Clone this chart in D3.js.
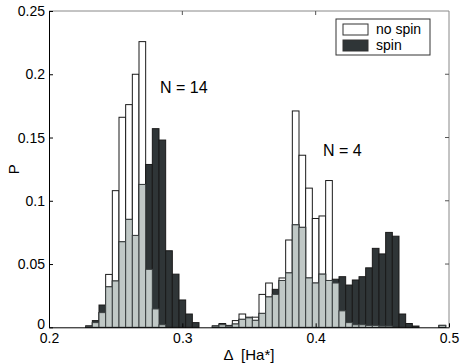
<!DOCTYPE html>
<html>
<head>
<meta charset="utf-8">
<script src="https://cdn.jsdelivr.net/npm/d3@7"></script>
<style>
  body { margin: 0; background: #fff; }
  svg text { font-family: "Liberation Sans", Arial, sans-serif; fill: #000; }
</style>
</head>
<body>
<div class="chart"></div>
<script>
const width = 463
const height = 363

// bin centres (Delta, Ha*)
const bins = [0.230, 0.235, 0.240, 0.245, 0.250, 0.255, 0.260, 0.265, 0.270, 0.275,
              0.280, 0.285, 0.290, 0.295, 0.300, 0.305, 0.310, 0.315, 0.320, 0.325,
              0.330, 0.335, 0.340, 0.345, 0.350, 0.355, 0.360, 0.365, 0.370, 0.375,
              0.380, 0.385, 0.390, 0.395, 0.400, 0.405, 0.410, 0.415, 0.420, 0.425,
              0.430, 0.435, 0.440, 0.445, 0.450, 0.455, 0.460, 0.465, 0.470, 0.475,
              0.480, 0.485, 0.490, 0.495]

const noSpin = [0.0005, 0.0037, 0.0116, 0.0418, 0.108, 0.166, 0.176, 0.200, 0.2258, 0.0458,
                0.0145, 0.002, 0, 0, 0, 0, 0, 0, 0, 0.001,
                0.003, 0.001, 0.0053, 0.0105, 0.008, 0.008, 0.026, 0.035, 0.026, 0.039,
                0.069, 0.171, 0.136, 0.110, 0.086, 0.088, 0.116, 0.035, 0.013, 0.0037,
                0.002, 0.002, 0.0015, 0.0015, 0.001, 0.001, 0, 0, 0, 0,
                0, 0, 0, 0.0015]

const spin = [0.0012, 0.0053, 0.0176, 0.032, 0.0366, 0.0676, 0.0853, 0.0726, 0.1129, 0.1287,
              0.157, 0.148, 0.0605, 0.042, 0.0216, 0.0105, 0.0037, 0, 0, 0.001,
              0.002, 0.0015, 0.0026, 0.0063, 0.0075, 0.0055, 0.011, 0.024, 0.030, 0.037,
              0.043, 0.081, 0.079, 0.039, 0.035, 0.042, 0.037, 0.038, 0.040, 0.0334,
              0.0374, 0.040, 0.047, 0.0624, 0.058, 0.075, 0.072, 0.0105, 0.003, 0.001,
              0, 0, 0, 0.0015]

const xTicks = [0.2, 0.3, 0.4, 0.5]
const yTicks = [0, 0.05, 0.1, 0.15, 0.2, 0.25]
const seriesNames = ['no spin', 'spin']
const binWidth = 0.005

const margin = {left: 49, right: 14, top: 11, bottom: 35.7}

const svg = d3.select('.chart')
    .append('svg')
        .attr('width', width)
        .attr('height', height)

const x = d3.scaleLinear().domain([0.2, 0.5]).range([margin.left, width - margin.right])
const y = d3.scaleLinear().domain([0, 0.25]).range([height - margin.bottom, margin.top])

const rows = bins.map((b, i) => ({b: b, n: noSpin[i], s: spin[i], o: Math.min(noSpin[i], spin[i])}))

const g = svg.append('g')

function drawBars(key, fill, stroke){
    g.append('g')
        .selectAll('rect')
        .data(rows.filter(d => d[key] > 0))
        .join('rect')
            .attr('x', d => x(d.b - binWidth / 2))
            .attr('width', d => x(d.b + binWidth / 2) - x(d.b - binWidth / 2))
            .attr('y', d => y(d[key]))
            .attr('height', d => y(0) - y(d[key]))
            .attr('fill', fill)
            .attr('stroke', stroke)
            .attr('stroke-width', 1)
}

drawBars('n', '#ffffff', '#1a1a1a')
drawBars('s', '#2f3537', '#1a1a1a')
drawBars('o', '#c0c8c6', '#3a3f40')

// box and ticks (matlab style, ticks inward)
const x0 = x(0.2), x1 = x(0.5), y0 = y(0), y1 = y(0.25)
svg.append('line').attr('x1', x0).attr('x2', x1).attr('y1', y1).attr('y2', y1).attr('stroke', '#888')
svg.append('line').attr('x1', x1).attr('x2', x1).attr('y1', y1).attr('y2', y0).attr('stroke', '#888')

const xAxis = svg.append('g')
    .attr('transform', `translate(0,${y0})`)
    .call(d3.axisBottom(x).tickValues(xTicks).tickSizeInner(-4).tickSizeOuter(0).tickPadding(9)
        .tickFormat(d3.format('')))
xAxis.select('.domain').attr('stroke', '#000')
xAxis.selectAll('text').attr('font-size', 14).attr('dy', '0.5em')

const yAxis = svg.append('g')
    .attr('transform', `translate(${x0},0)`)
    .call(d3.axisLeft(y).tickValues(yTicks).tickSizeInner(-4).tickSizeOuter(0).tickPadding(4)
        .tickFormat(d3.format('')))
yAxis.select('.domain').attr('stroke', '#000')
yAxis.selectAll('text').attr('font-size', 14)
// "0" sits just above the first x label, as in the original
yAxis.selectAll('.tick').filter(d => d === 0).select('text').attr('dy', '0.1em')

// top and right ticks
svg.append('g').selectAll('line').data(xTicks.slice(1, -1)).join('line')
    .attr('x1', d => x(d)).attr('x2', d => x(d)).attr('y1', y1).attr('y2', y1 + 4).attr('stroke', '#555')
svg.append('g').selectAll('line').data(yTicks.slice(1, -1)).join('line')
    .attr('x1', x1).attr('x2', x1 - 4).attr('y1', d => y(d)).attr('y2', d => y(d)).attr('stroke', '#555')

// axis labels
svg.append('text')
    .attr('x', x(0.35)).attr('y', 360)
    .attr('text-anchor', 'middle').attr('font-size', 15)
    .attr('xml:space', 'preserve')
    .text('Δ  [Ha*]')

svg.append('text')
    .attr('transform', `translate(19,${(y0 + y1) / 2}) rotate(-90)`)
    .attr('text-anchor', 'middle').attr('font-size', 15)
    .text('P')

// annotations
svg.append('text').attr('x', x(0.2833)).attr('y', y(0.185)).attr('font-size', 16).text('N = 14')
svg.append('text').attr('x', x(0.4055)).attr('y', y(0.1355)).attr('font-size', 16).text('N = 4')

// legend
const legend = svg.append('g').attr('transform', 'translate(336,19)')
legend.append('rect').attr('width', 94).attr('height', 36)
    .attr('fill', '#fff').attr('stroke', '#333')
seriesNames.forEach((name, i) => {
    legend.append('rect')
        .attr('x', 7).attr('y', 5 + i * 16).attr('width', 25).attr('height', 11)
        .attr('fill', i == 0 ? '#fff' : '#2f3537')
        .attr('stroke', '#333')
    legend.append('text')
        .attr('x', 40).attr('y', 15 + i * 16)
        .attr('font-size', 14)
        .text(name)
})
</script>
</body>
</html>
